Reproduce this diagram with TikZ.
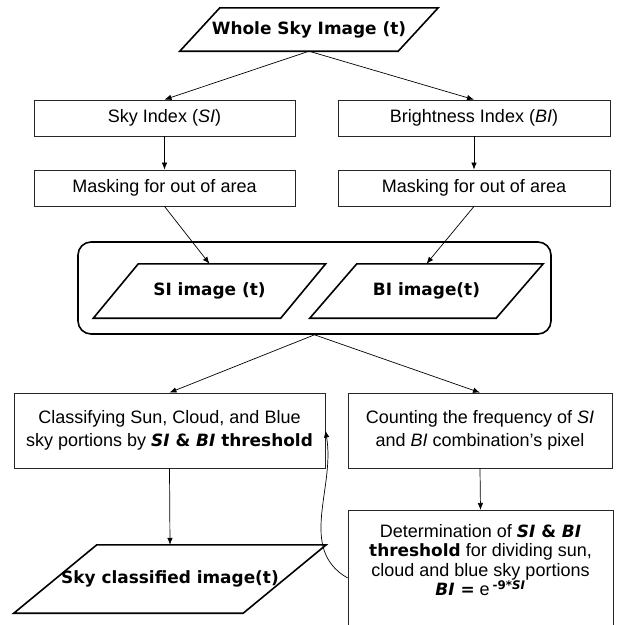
\documentclass[tikz,border=0pt]{standalone}
\usepackage{fontspec}
\setmainfont{Liberation Sans}[BoldFont={DejaVu Sans Bold},BoldItalicFont={DejaVu Sans Bold Oblique},BoldFeatures={Scale=0.94},BoldItalicFeatures={Scale=0.94}]
\usetikzlibrary{arrows.meta}

\begin{document}
\begin{tikzpicture}[x=1pt,y=-1pt,>={Latex[length=7pt,width=5.5pt]},
    box/.style={draw=black!85,line width=0.8pt,align=center,inner sep=0pt,font=\fontsize{18}{22}\selectfont},
    para/.style={inner sep=0pt,font=\fontsize{18}{22}\selectfont\bfseries},
    paraline/.style={line width=1.6pt,line join=miter},
    link/.style={->,line width=0.7pt}]
    \useasboundingbox (0,0) rectangle (617,625);
    \clip (0,0) rectangle (617,625);
    \node[para,minimum width=218,minimum height=43] (whole) at (309,29.5) {Whole Sky Image (t)};
    \node[box,minimum width=261,minimum height=36] (skyidx) at (164.5,118) {Sky Index (\textit{SI})};
    \node[box,minimum width=272,minimum height=36] (brtidx) at (474,118) {Brightness Index (\textit{BI})};
    \node[box,minimum width=261,minimum height=36] (mask1) at (164.5,188) {Masking for out of area};
    \node[box,minimum width=272,minimum height=36] (mask2) at (474,188) {Masking for out of area};
    \node[draw,line width=1.6pt,rounded corners=13pt,minimum width=473,minimum height=92] (group) at (314.5,288) {};
    \node[para,minimum width=187,minimum height=54] (siimg) at (209.5,291) {SI image (t)};
    \node[para,minimum width=186,minimum height=54] (biimg) at (426.5,291) {BI image(t)};
    \node[box,minimum width=311,minimum height=75,font=\fontsize{18}{23}\selectfont] (classify) at (169.5,430.5) {Classifying Sun, Cloud, and Blue\\sky portions by \textbf{\textit{SI} \& \textit{BI} threshold}};
    \node[box,minimum width=264,minimum height=75,font=\fontsize{18}{23}\selectfont] (count) at (480,430.5) {Counting the frequency of \textit{SI}\\and \textit{BI} combination's pixel};
    \node[para,minimum width=229,minimum height=68] (skycls) at (170,579) {Sky classified image(t)};
    \node[box,anchor=north,minimum width=265,inner ysep=14pt,text depth=105pt,font=\fontsize{18}{19.5}\selectfont] (determ) at (480.5,510) {Determination of \textbf{\textit{SI} \& \textit{BI}}\\\textbf{threshold} for dividing sun,\\cloud and blue sky portions\\\textbf{\textit{BI} =} e\,\textsuperscript{\bfseries -9*\textit{SI}}};
    \draw[paraline] ([xshift=-20pt]whole.south west) -- ([xshift=-20pt]whole.south east) -- ([xshift=20pt]whole.north east) -- ([xshift=20pt]whole.north west) -- cycle;
    \draw[paraline] ([xshift=-22.5pt]siimg.south west) -- ([xshift=-22.5pt]siimg.south east) -- ([xshift=22.5pt]siimg.north east) -- ([xshift=22.5pt]siimg.north west) -- cycle;
    \draw[paraline] ([xshift=-23.5pt]biimg.south west) -- ([xshift=-23.5pt]biimg.south east) -- ([xshift=23.5pt]biimg.north east) -- ([xshift=23.5pt]biimg.north west) -- cycle;
    \draw[paraline] ([xshift=-41.5pt]skycls.south west) -- ([xshift=-41.5pt]skycls.south east) -- ([xshift=41.5pt]skycls.north east) -- ([xshift=41.5pt]skycls.north west) -- cycle;
    \draw[link] (whole.south) -- (skyidx.north);
    \draw[link] (whole.south) -- (brtidx.north);
    \draw[link] (skyidx.south) -- (mask1.north);
    \draw[link] (brtidx.south) -- (mask2.north);
    \draw[link] (mask1.south) -- (siimg.north);
    \draw[link] (mask2.south) -- (biimg.north);
    \draw[link] (group.south) -- (classify.north);
    \draw[link] (group.south) -- (count.north);
    \draw[link] (classify.south) -- (skycls.north);
    \draw[link] (count.south) -- (determ.north);
    \draw[link] ([yshift=-68pt]determ.north west) to[out=150,in=-80] (classify.east);
\end{tikzpicture}
\end{document}
